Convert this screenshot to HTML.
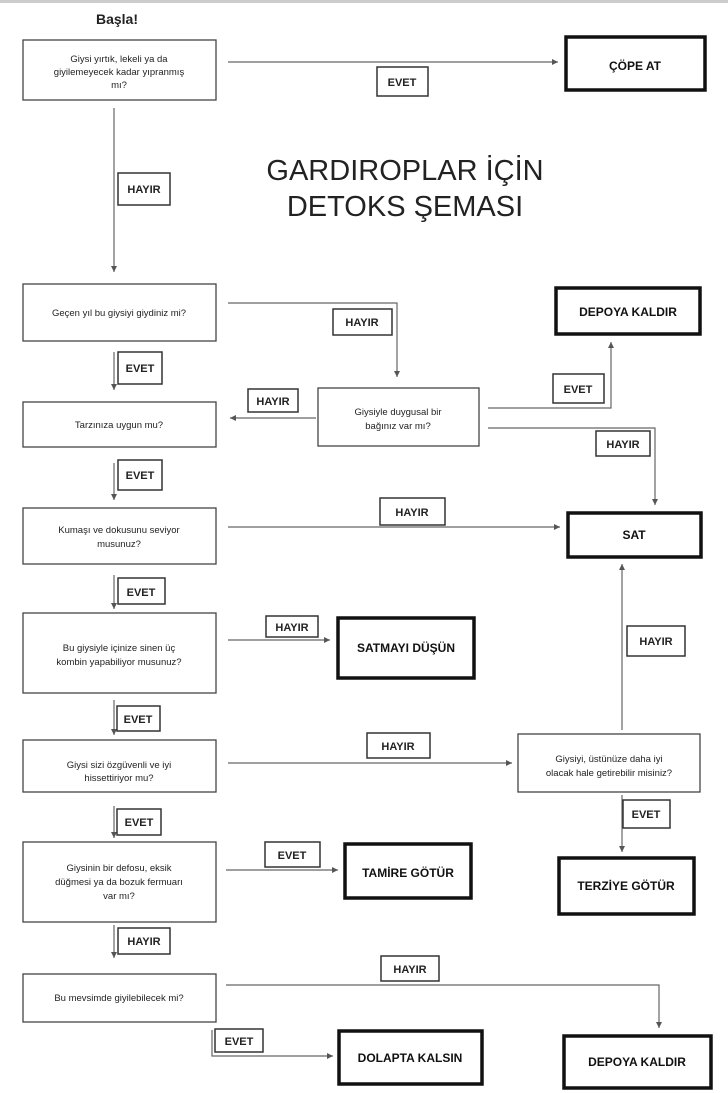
<!DOCTYPE html>
<html><head><meta charset="utf-8"><style>
html,body{margin:0;padding:0;background:#fff}
svg{display:block}
text{font-family:"Liberation Sans",Arial,sans-serif;fill:#222}
.q{font-size:9.5px;text-anchor:middle}
.l{font-size:11px;font-weight:bold;text-anchor:middle}
.r{font-size:12px;font-weight:bold;text-anchor:middle;fill:#111}
.b{fill:#fff;stroke:#444;stroke-width:1.3}
.t{fill:#fff;stroke:#111;stroke-width:3.5}
.lb{fill:#fff;stroke:#333;stroke-width:1.5}
.ln{fill:none;stroke:#666;stroke-width:1.2}
</style></head><body>
<svg width="728" height="1093" viewBox="0 0 728 1093" xmlns="http://www.w3.org/2000/svg">
<defs><marker id="a" markerWidth="6" markerHeight="6" refX="5" refY="3" orient="auto"><path d="M0,0.5 L5,3 L0,5.5z" fill="#555"/></marker></defs>
<rect x="0" y="0" width="728" height="3" fill="#ccc"/>
<text x="117" y="24" font-size="14" font-weight="bold" text-anchor="middle" style="font-family:'Liberation Sans',sans-serif">Başla!</text>
<text x="405" y="180" font-size="29" text-anchor="middle" fill="#111">GARDIROPLAR İÇİN</text>
<text x="405" y="216" font-size="29" text-anchor="middle" fill="#111">DETOKS ŞEMASI</text>

<g class="ln">
<path d="M228,62 H558" marker-end="url(#a)"/>
<path d="M114,108 V272" marker-end="url(#a)"/>
<path d="M228,303 H397 V377" marker-end="url(#a)"/>
<path d="M114,352 V390" marker-end="url(#a)"/>
<path d="M316,418 H230" marker-end="url(#a)"/>
<path d="M488,408 H611 V342" marker-end="url(#a)"/>
<path d="M488,428 H655 V505" marker-end="url(#a)"/>
<path d="M114,463 V500" marker-end="url(#a)"/>
<path d="M228,527 H560" marker-end="url(#a)"/>
<path d="M114,575 V609" marker-end="url(#a)"/>
<path d="M228,640 H330" marker-end="url(#a)"/>
<path d="M622,730 V564" marker-end="url(#a)"/>
<path d="M114,700 V735" marker-end="url(#a)"/>
<path d="M228,763 H512" marker-end="url(#a)"/>
<path d="M622,795 V852" marker-end="url(#a)"/>
<path d="M114,806 V838" marker-end="url(#a)"/>
<path d="M226,870 H338" marker-end="url(#a)"/>
<path d="M114,925 V958" marker-end="url(#a)"/>
<path d="M226,985 H659 V1028" marker-end="url(#a)"/>
<path d="M212,1030 V1056 H333" marker-end="url(#a)"/>
</g>

<rect class="b" x="23" y="40" width="193" height="60"/>
<text class="q" x="119" y="62">Giysi yırtık, lekeli ya da</text>
<text class="q" x="119" y="75">giyilemeyecek kadar yıpranmış</text>
<text class="q" x="119" y="88">mı?</text>
<rect class="b" x="23" y="284" width="193" height="57"/><text class="q" x="119" y="316">Geçen yıl bu giysiyi giydiniz mi?</text>
<rect class="b" x="23" y="402" width="193" height="45"/><text class="q" x="119" y="428">Tarzınıza uygun mu?</text>
<rect class="b" x="23" y="508" width="193" height="56"/>
<text class="q" x="119" y="533">Kumaşı ve dokusunu seviyor</text><text class="q" x="119" y="547">musunuz?</text>
<rect class="b" x="23" y="613" width="193" height="80"/>
<text class="q" x="119" y="651">Bu giysiyle içinize sinen üç</text><text class="q" x="119" y="665">kombin yapabiliyor musunuz?</text>
<rect class="b" x="23" y="740" width="193" height="52"/>
<text class="q" x="119" y="768">Giysi sizi özgüvenli ve iyi</text><text class="q" x="119" y="781">hissettiriyor mu?</text>
<rect class="b" x="23" y="842" width="193" height="80"/>
<text class="q" x="119" y="871">Giysinin bir defosu, eksik</text><text class="q" x="119" y="885">düğmesi ya da bozuk fermuarı</text><text class="q" x="119" y="899">var mı?</text>
<rect class="b" x="23" y="974" width="193" height="48"/><text class="q" x="119" y="1001">Bu mevsimde giyilebilecek mi?</text>
<rect class="b" x="318" y="388" width="161" height="58"/>
<text class="q" x="398" y="415">Giysiyle duygusal bir</text><text class="q" x="398" y="429">bağınız var mı?</text>
<rect class="b" x="518" y="734" width="182" height="58"/>
<text class="q" x="609" y="762">Giysiyi, üstünüze daha iyi</text><text class="q" x="609" y="776">olacak hale getirebilir misiniz?</text>

<rect class="t" x="566" y="37" width="139" height="53"/><text class="r" x="635" y="70">ÇÖPE AT</text>
<rect class="t" x="556" y="288" width="144" height="46"/><text class="r" x="628" y="316">DEPOYA KALDIR</text>
<rect class="t" x="568" y="513" width="133" height="44"/><text class="r" x="634" y="539">SAT</text>
<rect class="t" x="338" y="618" width="136" height="60"/><text class="r" x="406" y="652">SATMAYI DÜŞÜN</text>
<rect class="t" x="345" y="844" width="126" height="54"/><text class="r" x="408" y="877">TAMİRE GÖTÜR</text>
<rect class="t" x="559" y="858" width="135" height="56"/><text class="r" x="626" y="890">TERZİYE GÖTÜR</text>
<rect class="t" x="339" y="1031" width="143" height="53"/><text class="r" x="410" y="1062">DOLAPTA KALSIN</text>
<rect class="t" x="564" y="1036" width="147" height="52"/><text class="r" x="637" y="1066">DEPOYA KALDIR</text>

<g>
<rect class="lb" x="377" y="67" width="51" height="29"/><text class="l" x="402" y="86">EVET</text>
<rect class="lb" x="118" y="173" width="52" height="32"/><text class="l" x="144" y="193">HAYIR</text>
<rect class="lb" x="333" y="309" width="59" height="26"/><text class="l" x="362" y="326">HAYIR</text>
<rect class="lb" x="118" y="352" width="44" height="32"/><text class="l" x="140" y="372">EVET</text>
<rect class="lb" x="248" y="389" width="50" height="23"/><text class="l" x="273" y="405">HAYIR</text>
<rect class="lb" x="553" y="374" width="51" height="29"/><text class="l" x="578" y="393">EVET</text>
<rect class="lb" x="596" y="431" width="54" height="25"/><text class="l" x="623" y="448">HAYIR</text>
<rect class="lb" x="118" y="460" width="44" height="30"/><text class="l" x="140" y="479">EVET</text>
<rect class="lb" x="380" y="498" width="65" height="27"/><text class="l" x="412" y="516">HAYIR</text>
<rect class="lb" x="118" y="578" width="47" height="26"/><text class="l" x="141" y="596">EVET</text>
<rect class="lb" x="266" y="616" width="52" height="21"/><text class="l" x="292" y="631">HAYIR</text>
<rect class="lb" x="627" y="626" width="58" height="30"/><text class="l" x="656" y="645">HAYIR</text>
<rect class="lb" x="117" y="706" width="43" height="25"/><text class="l" x="138" y="723">EVET</text>
<rect class="lb" x="367" y="733" width="63" height="25"/><text class="l" x="398" y="750">HAYIR</text>
<rect class="lb" x="117" y="809" width="44" height="26"/><text class="l" x="139" y="826">EVET</text>
<rect class="lb" x="623" y="800" width="47" height="28"/><text class="l" x="646" y="818">EVET</text>
<rect class="lb" x="265" y="842" width="55" height="25"/><text class="l" x="292" y="859">EVET</text>
<rect class="lb" x="118" y="928" width="52" height="26"/><text class="l" x="144" y="945">HAYIR</text>
<rect class="lb" x="381" y="956" width="58" height="25"/><text class="l" x="410" y="973">HAYIR</text>
<rect class="lb" x="215" y="1029" width="48" height="23"/><text class="l" x="239" y="1045">EVET</text>
</g>
</svg>
</body></html>
